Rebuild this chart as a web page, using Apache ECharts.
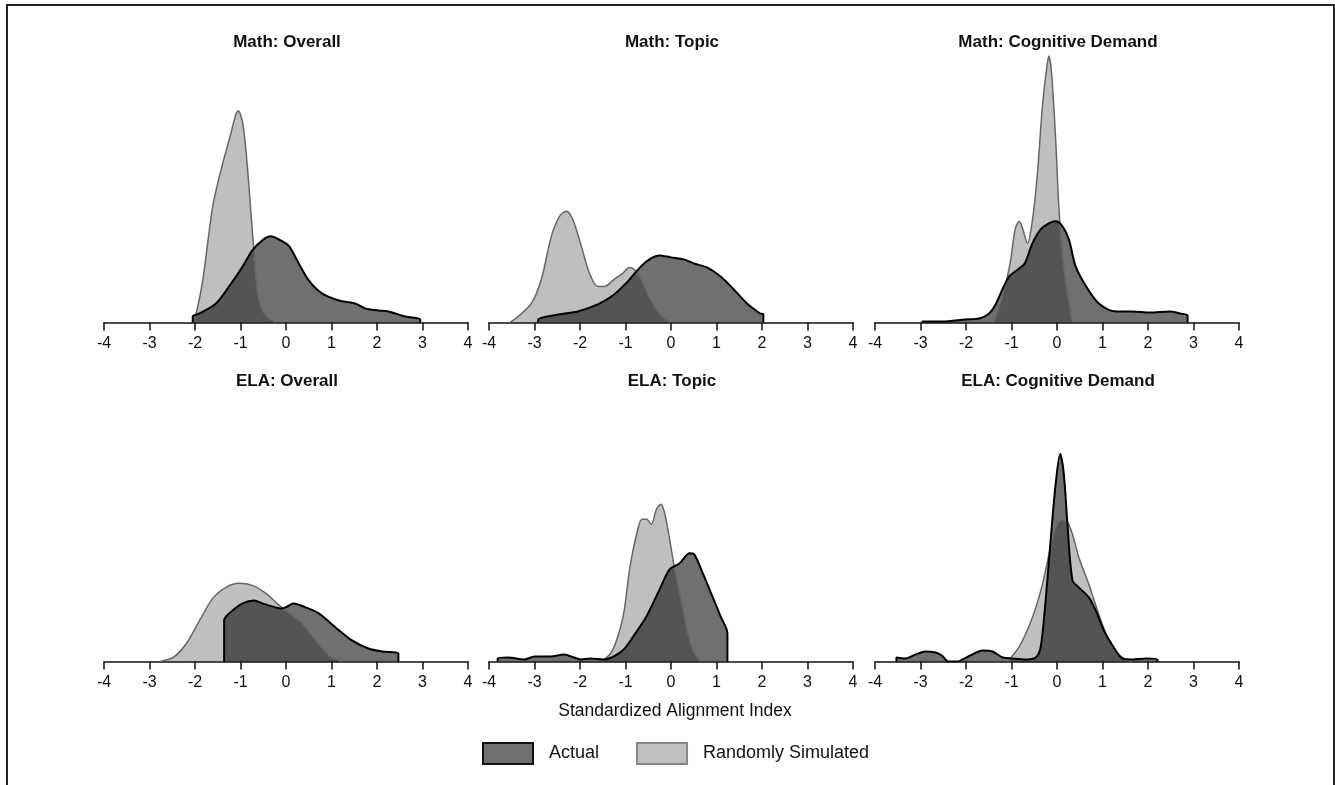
<!DOCTYPE html>
<html>
<head>
<meta charset="utf-8">
<script src="https://cdn.jsdelivr.net/npm/echarts@6/dist/echarts.min.js"></script>
<style>
  html, body { margin: 0; padding: 0; background: #fff; }
  #chart { width: 1335px; height: 785px; }
</style>
</head>
<body>
<div id="chart"></div>
<script>
// panel titles, in grid order
const panelTitles = ['Math: Overall', 'Math: Topic', 'Math: Cognitive Demand',
                     'ELA: Overall', 'ELA: Topic', 'ELA: Cognitive Demand'];
const xTicks = [-4, -3, -2, -1, 0, 1, 2, 3, 4];

// [index value, density]
const mathOverallSim = [[-2.05,0],[-1.99,0.06],[-1.83,0.42],[-1.61,1.16],[-1.39,1.59],[-1.25,1.82],[-1.10,2.08],[-1.05,2.11],[-0.95,1.99],[-0.85,1.56],[-0.77,1.09],[-0.70,0.69],[-0.63,0.32],[-0.52,0.12],[-0.37,0.04],[-0.23,0]];
const mathOverallAct = [[-2.05,0],[-2.05,0.06],[-1.90,0.09],[-1.54,0.19],[-1.25,0.36],[-0.95,0.56],[-0.74,0.72],[-0.52,0.82],[-0.34,0.86],[-0.12,0.82],[0.07,0.76],[0.28,0.59],[0.50,0.42],[0.79,0.29],[1.16,0.22],[1.52,0.19],[1.74,0.14],[2.03,0.12],[2.25,0.11],[2.62,0.06],[2.95,0.03],[2.95,0]];

const mathTopicSim = [[-3.54,0],[-3.36,0.06],[-3.07,0.19],[-2.85,0.43],[-2.63,0.86],[-2.45,1.06],[-2.30,1.11],[-2.16,1.03],[-1.97,0.76],[-1.79,0.49],[-1.61,0.36],[-1.46,0.36],[-1.25,0.43],[-1.06,0.49],[-0.92,0.55],[-0.81,0.53],[-0.66,0.43],[-0.52,0.29],[-0.34,0.14],[-0.15,0.04],[0,0]];
const mathTopicAct = [[-2.92,0],[-2.92,0.03],[-2.48,0.08],[-2.05,0.11],[-1.61,0.18],[-1.25,0.28],[-0.95,0.41],[-0.66,0.56],[-0.44,0.64],[-0.26,0.67],[0,0.65],[0.28,0.63],[0.50,0.59],[0.79,0.55],[1.09,0.46],[1.38,0.33],[1.67,0.19],[1.96,0.09],[2.03,0.08],[2.03,0]];

const mathCogSim = [[-1.38,0],[-1.18,0.29],[-1.03,0.59],[-0.92,0.93],[-0.83,1.01],[-0.75,0.93],[-0.65,0.79],[-0.54,1.02],[-0.43,1.49],[-0.32,2.16],[-0.23,2.53],[-0.18,2.66],[-0.12,2.49],[-0.03,1.83],[0.04,1.16],[0.12,0.66],[0.23,0.29],[0.34,0]];
const mathCogAct = [[-2.96,0],[-2.96,0.01],[-2.52,0.01],[-2.01,0.03],[-1.71,0.04],[-1.49,0.09],[-1.35,0.18],[-1.20,0.33],[-1.05,0.46],[-0.86,0.53],[-0.71,0.59],[-0.54,0.79],[-0.36,0.93],[-0.18,0.99],[-0.03,1.01],[0.12,0.96],[0.26,0.83],[0.41,0.56],[0.64,0.36],[0.92,0.19],[1.30,0.11],[1.66,0.11],[2.04,0.10],[2.48,0.11],[2.70,0.09],[2.87,0.07],[2.87,0]];

const elaOverallSim = [[-2.78,0],[-2.48,0.04],[-2.19,0.18],[-1.90,0.41],[-1.61,0.63],[-1.32,0.74],[-1.03,0.78],[-0.74,0.76],[-0.44,0.68],[-0.15,0.56],[0.07,0.48],[0.36,0.38],[0.65,0.21],[0.94,0.06],[1.23,0]];
const elaOverallAct = [[-1.36,0],[-1.36,0.41],[-1.25,0.48],[-0.95,0.58],[-0.70,0.61],[-0.52,0.58],[-0.23,0.54],[-0.12,0.53],[-0.01,0.54],[0.17,0.58],[0.43,0.54],[0.72,0.48],[1.09,0.34],[1.45,0.21],[1.81,0.13],[2.11,0.10],[2.47,0.08],[2.47,0]];

const elaTopicSim = [[-1.52,0],[-1.33,0.08],[-1.19,0.22],[-1.04,0.48],[-0.90,0.95],[-0.75,1.28],[-0.64,1.42],[-0.54,1.42],[-0.43,1.37],[-0.32,1.52],[-0.22,1.57],[-0.14,1.48],[-0.03,1.22],[0.08,0.92],[0.22,0.62],[0.37,0.28],[0.51,0.08],[0.66,0]];
const elaTopicAct = [[-3.81,0],[-3.81,0.03],[-3.58,0.04],[-3.22,0.02],[-3.00,0.05],[-2.64,0.05],[-2.35,0.07],[-2.13,0.04],[-1.99,0.02],[-1.77,0.03],[-1.48,0.02],[-1.26,0.05],[-1.04,0.12],[-0.83,0.25],[-0.54,0.45],[-0.25,0.72],[-0.03,0.92],[0.19,0.98],[0.41,1.08],[0.51,1.07],[0.70,0.88],[0.91,0.65],[1.09,0.45],[1.24,0.28],[1.24,0]];

const elaCogSim = [[-1.09,0],[-0.84,0.14],[-0.54,0.44],[-0.32,0.77],[-0.14,1.14],[0.01,1.37],[0.12,1.41],[0.23,1.39],[0.34,1.27],[0.48,1.04],[0.70,0.77],[0.92,0.47],[1.14,0.21],[1.36,0.07],[1.51,0.02],[1.65,0]];
const elaCogAct = [[-3.53,0],[-3.53,0.04],[-3.33,0.03],[-3.11,0.07],[-2.89,0.10],[-2.67,0.09],[-2.53,0.06],[-2.39,0],[-2.17,0],[-2.08,0.02],[-1.86,0.07],[-1.64,0.11],[-1.42,0.10],[-1.19,0.04],[-0.98,0.03],[-0.69,0.02],[-0.47,0.04],[-0.36,0.14],[-0.25,0.61],[-0.14,1.21],[-0.03,1.77],[0.07,2.07],[0.15,1.87],[0.23,1.37],[0.34,0.81],[0.48,0.74],[0.70,0.64],[0.85,0.51],[1.03,0.31],[1.22,0.16],[1.44,0.03],[1.66,0.02],[1.95,0.03],[2.21,0.02],[2.21,0]];

const simData = [mathOverallSim, mathTopicSim, mathCogSim, elaOverallSim, elaTopicSim, elaCogSim];
const actData = [mathOverallAct, mathTopicAct, mathCogAct, elaOverallAct, elaTopicAct, elaCogAct];

const FONT = '"Liberation Sans", Arial, sans-serif';
const colLeft = [104, 489, 875];
const rowTop = [50, 389];
const panelW = 364, panelH = 272.5;

const grids = [], xAxes = [], yAxes = [], titles = [], series = [];

for (let i = 0; i < 6; i++) {
  const c = i % 3, r = Math.floor(i / 3);
  grids.push({ left: colLeft[c], top: rowTop[r], width: panelW, height: panelH });
  xAxes.push({
    type: 'value', gridIndex: i, min: -4, max: 4, interval: 1,
    splitLine: { show: false },
    axisLine: { onZero: false, lineStyle: { color: '#111', width: 1.5 } },
    axisTick: { length: 8, lineStyle: { color: '#111', width: 1.5 } },
    axisLabel: { margin: 13, fontSize: 16, color: '#111', fontFamily: FONT,
                 formatter: v => xTicks.includes(v) ? String(v) : '' }
  });
  yAxes.push({ type: 'value', gridIndex: i, min: 0, max: 2.72, show: false });
  titles.push({
    text: panelTitles[i], left: colLeft[c] + panelW / 2 - 4, top: rowTop[r] - 21.5, textAlign: 'center',
    textStyle: { fontSize: 17, fontWeight: 'bold', color: '#111', fontFamily: FONT }
  });
  series.push({
    name: 'Randomly Simulated', type: 'line', xAxisIndex: i, yAxisIndex: i,
    data: simData[i], showSymbol: false, smooth: 0.3,
    lineStyle: { color: '#666', width: 1.5 },
    itemStyle: { color: '#c0c0c0' },
    areaStyle: { color: 'rgba(0,0,0,0.25)', opacity: 1 }
  });
  series.push({
    name: 'Actual', type: 'line', xAxisIndex: i, yAxisIndex: i,
    data: actData[i], showSymbol: false, smooth: 0.3,
    lineStyle: { color: '#000', width: 2 },
    itemStyle: { color: '#707070' },
    areaStyle: { color: 'rgba(0,0,0,0.56)', opacity: 1 }
  });
}

titles.push({
  text: 'Standardized Alignment Index', left: 670, top: 697, textAlign: 'center',
  textStyle: { fontSize: 17.5, fontWeight: 'normal', color: '#111', fontFamily: FONT }
});

const chart = echarts.init(document.getElementById('chart'));
chart.setOption({
  animation: false,
  backgroundColor: '#fff',
  title: titles,
  grid: grids,
  xAxis: xAxes,
  yAxis: yAxes,
  series: series,
  legend: {
    left: 477, top: 737, icon: 'rect', itemWidth: 50, itemHeight: 21, itemGap: 37,
    selectedMode: false,
    data: [
      { name: 'Actual', itemStyle: { color: '#707070', borderColor: '#111', borderWidth: 2 } },
      { name: 'Randomly Simulated', itemStyle: { color: '#c0c0c0', borderColor: '#888', borderWidth: 2 } }
    ],
    textStyle: { fontSize: 18, color: '#111', fontFamily: FONT, padding: [0, 0, 0, 11] }
  },
  graphic: [{
    type: 'rect', silent: true,
    shape: { x: 7, y: 5, width: 1327, height: 800 },
    style: { fill: 'none', stroke: '#222', lineWidth: 2 }
  }]
});
</script>
</body>
</html>
